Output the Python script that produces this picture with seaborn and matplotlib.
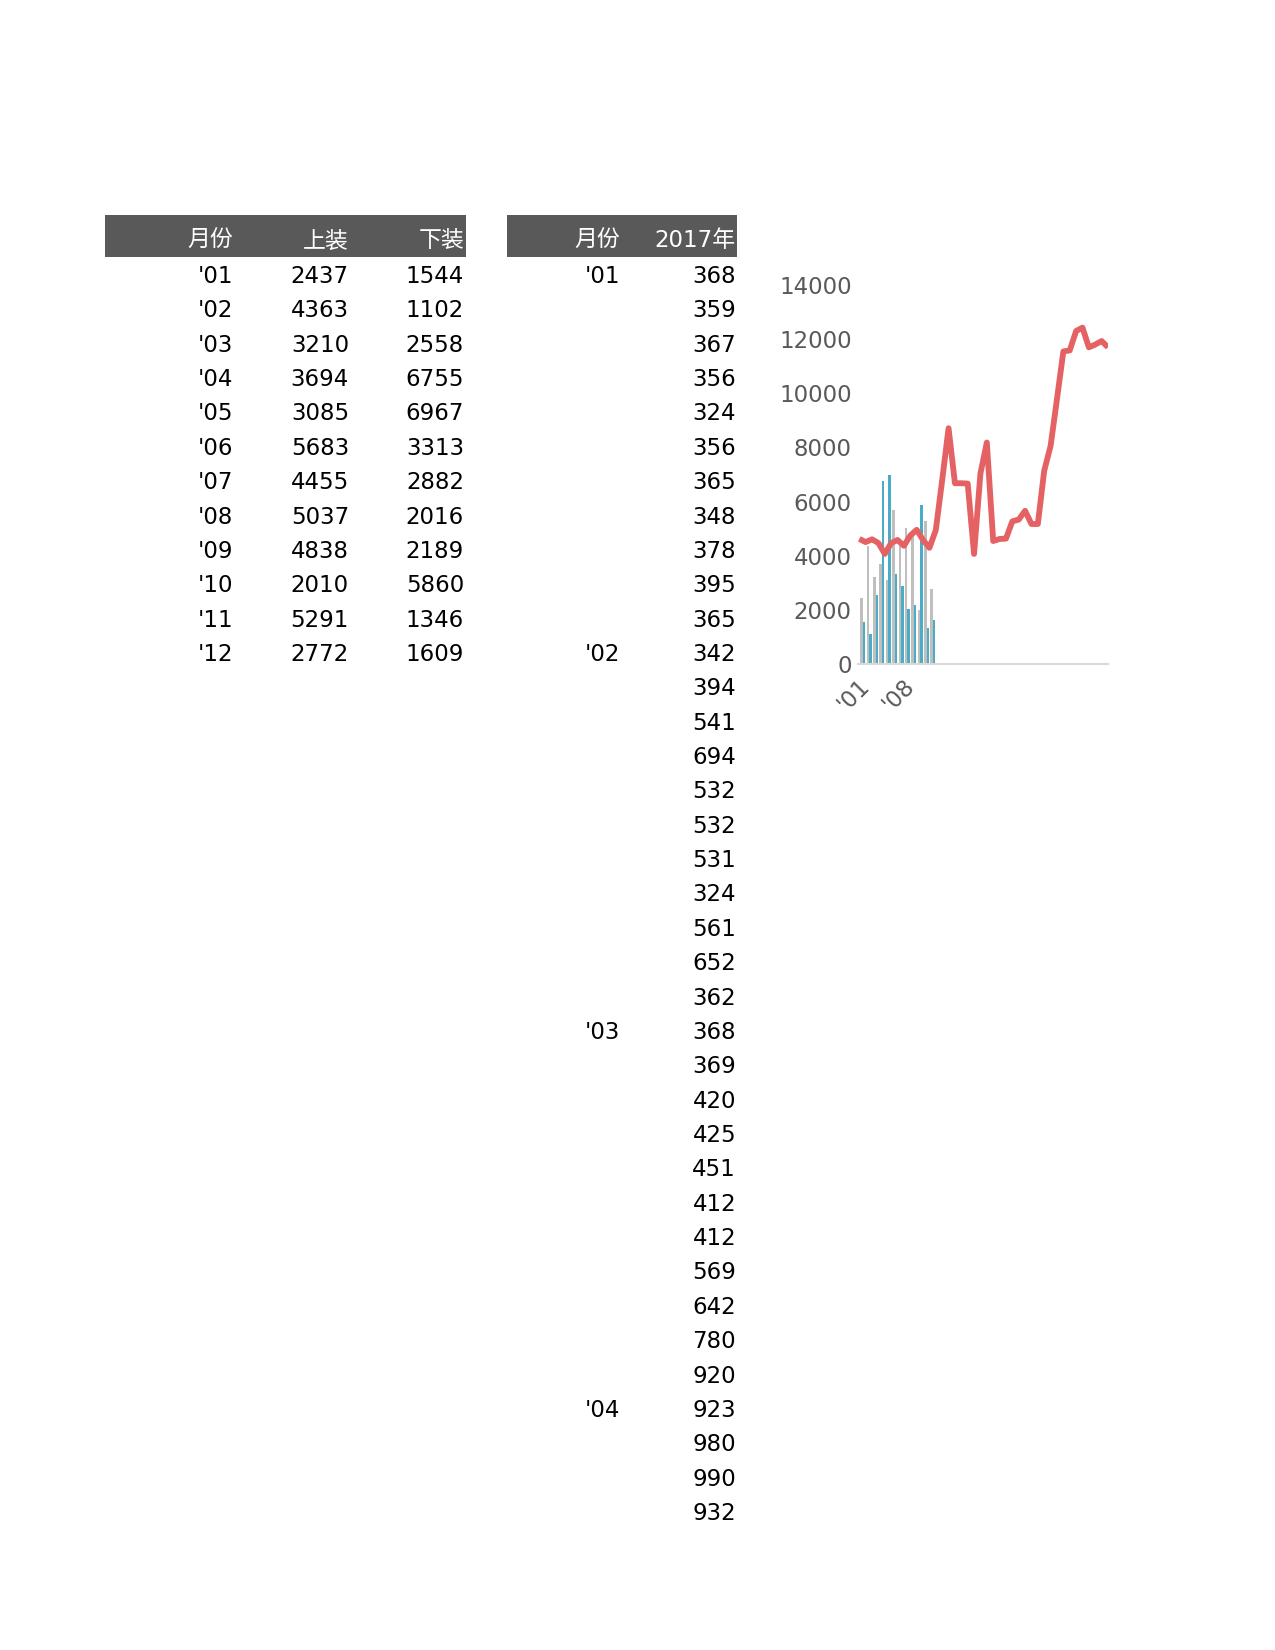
import matplotlib
matplotlib.use('Agg')
import matplotlib.pyplot as plt
import seaborn as sns
import pandas as pd
import numpy as np
from matplotlib.patches import Rectangle

sns.set_theme(style='white')
plt.rcParams['font.family'] = ['DejaVu Sans', 'Noto Sans CJK SC']

# ---------------- data ----------------
months = ["'01", "'02", "'03", "'04", "'05", "'06", "'07", "'08", "'09", "'10", "'11", "'12"]
tops = [2437, 4363, 3210, 3694, 3085, 5683, 4455, 5037, 4838, 2010, 5291, 2772]      # 上装
bottoms = [1544, 1102, 2558, 6755, 6967, 3313, 2882, 2016, 2189, 5860, 1346, 1609]   # 下装

right_month_labels = ["'01", "'02", "'03", "'04"]
values_2017 = [368, 359, 367, 356, 324, 356, 365, 348, 378, 395, 365,
               342, 394, 541, 694, 532, 532, 531, 324, 561, 652, 362,
               368, 369, 420, 425, 451, 412, 412, 569, 642, 780, 920,
               923, 980, 990, 932]

line_values = [4618, 4505, 4606, 4468, 4066, 4468, 4581, 4367, 4744, 4957,
               4581, 4292, 4945, 6790, 8710, 6677, 6677, 6664, 4066, 7041,
               8183, 4543, 4618, 4631, 5271, 5334, 5660, 5171, 5171, 7141,
               8057, 9789, 11546, 11584, 12299, 12425, 11697, 11800, 11930, 11700]

x_tick_labels = ["'01", "'08"]

# ---------------- figure ----------------
W, H = 1275, 1650
fig = plt.figure(figsize=(W / 150, H / 150), dpi=150)
fig.patch.set_facecolor('white')

# table layer (pixel coordinates)
tab = fig.add_axes([0, 0, 1, 1])
tab.set_xlim(0, W)
tab.set_ylim(H, 0)
tab.axis('off')

HDR = '#595959'
FS = 11
tab.add_patch(Rectangle((105, 215), 361, 42, color=HDR, lw=0))
tab.add_patch(Rectangle((507, 215), 230, 42, color=HDR, lw=0))

hb = 247
for txt, xr in [('月份', 233), ('上装', 349), ('下装', 464)]:
    tab.text(xr, hb, txt, ha='right', va='baseline', color='white', fontsize=FS)
for txt, xr in [('月份', 620), ('2017年', 736)]:
    tab.text(xr, hb, txt, ha='right', va='baseline', color='white', fontsize=FS)

row0, dy = 283, 34.36
for i, (m, t, b) in enumerate(zip(months, tops, bottoms)):
    y = row0 + dy * i
    tab.text(233, y, m, ha='right', va='baseline', color='black', fontsize=FS)
    tab.text(349, y, str(t), ha='right', va='baseline', color='black', fontsize=FS)
    tab.text(464, y, str(b), ha='right', va='baseline', color='black', fontsize=FS)

for i, v in enumerate(values_2017):
    y = row0 + dy * i
    tab.text(736, y, str(v), ha='right', va='baseline', color='black', fontsize=FS)
for k, m in enumerate(right_month_labels):
    y = row0 + dy * (k * 11)
    tab.text(620, y, m, ha='right', va='baseline', color='black', fontsize=FS)

# ---------------- chart ----------------
x0, x1 = 858, 1108
yb, yt = 664, 285
ax = fig.add_axes([x0 / W, (H - yb) / H, (x1 - x0) / W, (yb - yt) / H])
ax.set_facecolor('none')

n_line = len(line_values)
group_pos = np.arange(len(months)) + 0.55
df = pd.DataFrame({
    'x': np.concatenate([group_pos, group_pos]),
    'v': tops + bottoms,
    's': ['上装'] * len(tops) + ['下装'] * len(bottoms),
})
sns.barplot(data=df, x='x', y='v', hue='s', hue_order=['上装', '下装'],
            palette=['#BFBFBF', '#4BACC6'], native_scale=True, width=0.78,
            gap=0, errorbar=None, saturation=1, legend=False, ax=ax, linewidth=0)

sns.lineplot(x=np.arange(n_line), y=line_values, ax=ax, color='#E46264',
             linewidth=2.8, solid_joinstyle='round', solid_capstyle='butt')

ax.set_xlim(0, n_line - 1)
ax.set_ylim(0, 14000)
ax.set_yticks(np.arange(0, 14001, 2000))
ax.set_yticklabels([str(v) for v in range(0, 14001, 2000)], color='#595959', fontsize=FS)
ax.tick_params(axis='y', length=0, pad=3)
ax.set_xticks([group_pos[0] - 0.75, group_pos[7] - 0.75])
ax.set_xticklabels(x_tick_labels, rotation=45, ha='right', rotation_mode='anchor',
                   color='#595959', fontsize=FS)
ax.tick_params(axis='x', length=0, pad=5)
ax.set_xlabel('')
ax.set_ylabel('')
for s in ['top', 'right', 'left']:
    ax.spines[s].set_visible(False)
ax.spines['bottom'].set_color('#D9D9D9')
ax.spines['bottom'].set_linewidth(1.0)
ax.grid(False)

fig.savefig('out.png', dpi=150, facecolor='white')
